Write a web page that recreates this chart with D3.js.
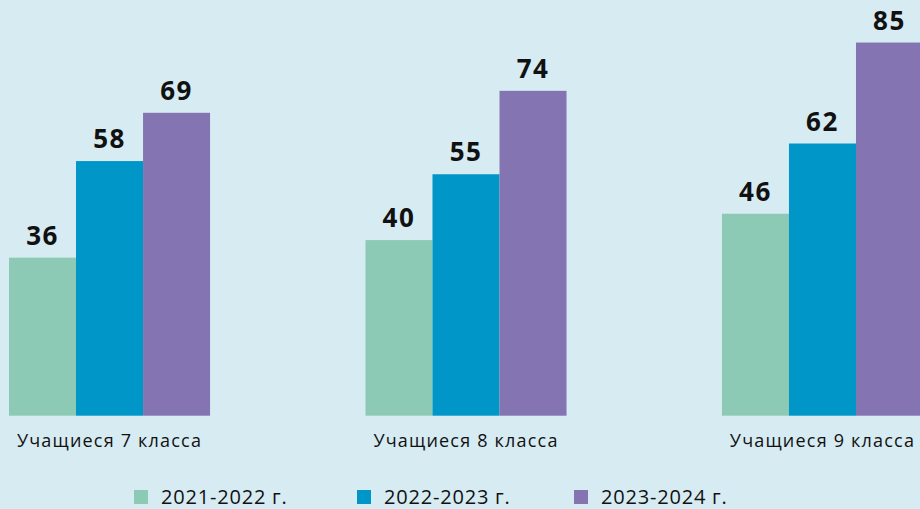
<!DOCTYPE html>
<html>
<head>
<meta charset="utf-8">
<script src="https://cdn.jsdelivr.net/npm/d3@7"></script>
<style>
  body { margin: 0; background: #d6ebf2; }
  svg { display: block; }
</style>
</head>
<body>
<div id="main"></div>
<script>
// data
const categories = ['Учащиеся 7 класса', 'Учащиеся 8 класса', 'Учащиеся 9 класса'];
const series = ['2021-2022 г.', '2022-2023 г.', '2023-2024 г.'];
const values2021 = [36, 40, 46];
const values2022 = [58, 55, 62];
const values2023 = [69, 74, 85];
const colors = ['#8ccab6', '#0096c8', '#8475b2'];

const w = 920;
const h = 509;
const baseline = 415.7;

const svg = d3
  .select('div#main')
  .append('svg')
  .attr('width', w)
  .attr('height', h);

svg.append('rect').attr('width', w).attr('height', h).attr('fill', '#d6ebf2');

const allValues = [values2021, values2022, values2023];

// scales
const x0 = d3.scaleBand().domain(categories).range([9, 923]).paddingInner(0.436).paddingOuter(0);
const x1 = d3.scaleBand().domain(series).range([0, x0.bandwidth()]).padding(0);
const y = d3.scaleLinear().domain([0, 85]).range([baseline, baseline - 85 * 4.39]);

// bars
const groups = svg
  .selectAll('g.group')
  .data(categories)
  .join('g')
  .attr('class', 'group')
  .attr('transform', d => `translate(${x0(d)},0)`);

groups
  .selectAll('rect')
  .data((d, i) => series.map((s, j) => ({ s, j, v: allValues[j][i] })))
  .join('rect')
  .attr('x', d => x1(d.s))
  .attr('y', d => y(d.v))
  .attr('width', x1.bandwidth())
  .attr('height', d => baseline - y(d.v))
  .attr('fill', d => colors[d.j]);

// value labels
groups
  .selectAll('text.val')
  .data((d, i) => series.map((s, j) => ({ s, j, v: allValues[j][i] })))
  .join('text')
  .attr('class', 'val')
  .attr('x', d => x1(d.s) + x1.bandwidth() / 2)
  .attr('y', d => y(d.v) - 13)
  .attr('text-anchor', 'middle')
  .attr('font-family', 'Open Sans, sans-serif')
  .attr('font-weight', 700)
  .attr('font-size', 26)
  .attr('letter-spacing', 1.5)
  .attr('fill', '#111')
  .text(d => d.v);

// category axis (text only)
const xAxis = svg
  .append('g')
  .attr('transform', `translate(0,${baseline})`)
  .call(d3.axisBottom(x0).tickSize(0).tickPadding(0));
xAxis.select('.domain').remove();
xAxis
  .selectAll('text')
  .attr('dy', 0)
  .attr('y', 31)
  .attr('font-family', 'Open Sans, sans-serif')
  .attr('font-size', 18)
  .attr('letter-spacing', 1.2)
  .attr('fill', '#111');

// legend
const legendX = [134, 357, 574];
const legend = svg
  .selectAll('g.legend')
  .data(series)
  .join('g')
  .attr('class', 'legend')
  .attr('transform', (d, i) => `translate(${legendX[i]},490)`);

legend
  .append('rect')
  .attr('width', 14)
  .attr('height', 14)
  .attr('fill', (d, i) => colors[i]);

legend
  .append('text')
  .attr('x', 27)
  .attr('y', 14)
  .attr('font-family', 'Open Sans, sans-serif')
  .attr('font-size', 20)
  .attr('letter-spacing', 0.8)
  .attr('fill', '#111')
  .text(d => d);
</script>
</body>
</html>
